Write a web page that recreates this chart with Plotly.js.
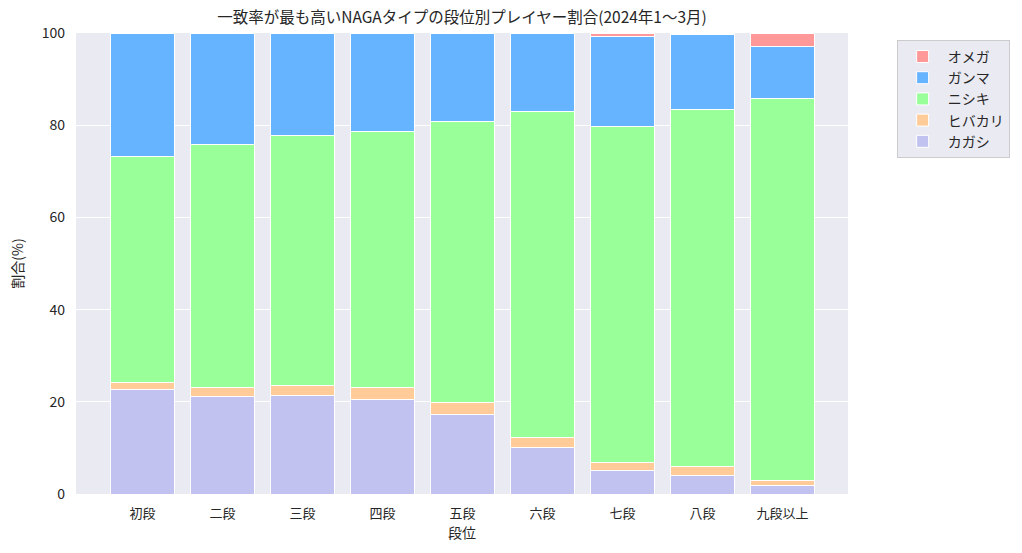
<!DOCTYPE html>
<html>
<head>
<meta charset="utf-8">
<script src="https://cdn.plot.ly/plotly-3.0.1.min.js"></script>
<style>
  body { margin: 0; background: #ffffff; }
  #chart { width: 1022px; height: 553px; }
</style>
</head>
<body>
<div id="chart"></div>
<script>
// 段位カテゴリ
const ranks = ['初段', '二段', '三段', '四段', '五段', '六段', '七段', '八段', '九段以上'];

// 各タイプの割合(%) — 下から積み上げ順
const kagashi  = [22.6, 21.1, 21.4, 20.5, 17.3, 10.1, 5.1, 4.1, 1.8];
const hibakari = [1.6, 2.0, 2.2, 2.6, 2.6, 2.2, 1.7, 1.8, 1.2];
const nishiki  = [49.0, 52.7, 54.2, 55.6, 61.0, 70.6, 72.9, 77.5, 82.8];
const ganma    = [26.8, 24.2, 22.2, 21.3, 19.1, 17.0, 19.5, 16.2, 11.2];
const omega    = [0.0, 0.0, 0.0, 0.0, 0.0, 0.1, 0.8, 0.4, 3.0];

const yTicks = [0, 20, 40, 60, 80, 100];

const series = [
    { name: 'カガシ', values: kagashi, color: '#c2c2f0' },
    { name: 'ヒバカリ', values: hibakari, color: '#ffcc99' },
    { name: 'ニシキ', values: nishiki, color: '#99ff99' },
    { name: 'ガンマ', values: ganma, color: '#66b3ff' },
    { name: 'オメガ', values: omega, color: '#ff9999' }
];

const data = series.map(s => ({
    type: 'bar',
    x: ranks,
    y: s.values,
    name: s.name,
    width: 0.8,
    marker: { color: s.color, line: { color: '#ffffff', width: 1 } },
    hoverinfo: 'x+y+name'
}));

const font = 'Noto Sans CJK JP, Noto Sans, sans-serif';

const layout = {
    width: 1022,
    height: 553,
    barmode: 'stack',
    paper_bgcolor: '#ffffff',
    plot_bgcolor: '#eaeaf2',
    margin: { l: 76, r: 174, t: 33, b: 59 },
    font: { family: font, size: 13, color: '#262626' },
    title: {
        text: '一致率が最も高いNAGAタイプの段位別プレイヤー割合(2024年1～3月)',
        font: { family: font, size: 15.5, color: '#262626' },
        xref: 'paper', x: 0.5, xanchor: 'center', y: 0.968, yanchor: 'middle'
    },
    xaxis: {
        range: [-0.83, 8.82],
        showgrid: false,
        zeroline: false,
        ticks: '',
        ticklabelstandoff: 10,
        tickfont: { size: 13 },
        title: { text: '段位', font: { size: 14 }, standoff: 6 }
    },
    yaxis: {
        range: [0, 100],
        tickvals: yTicks,
        gridcolor: '#ffffff',
        gridwidth: 1,
        zeroline: false,
        ticks: '',
        ticklabelstandoff: 10,
        tickfont: { size: 14 },
        title: { text: '割合(%)', font: { size: 14 }, standoff: 14 }
    },
    legend: {
        x: 1.063, xanchor: 'left',
        y: 0.985, yanchor: 'top',
        bgcolor: '#eaeaf2',
        bordercolor: '#cccccc',
        borderwidth: 1,
        font: { size: 14 },
        itemwidth: 40,
        tracegroupgap: 0,
        traceorder: 'reversed'
    },
    bargap: 0.2
};

Plotly.newPlot('chart', data, layout, { displayModeBar: false });
</script>
</body>
</html>
